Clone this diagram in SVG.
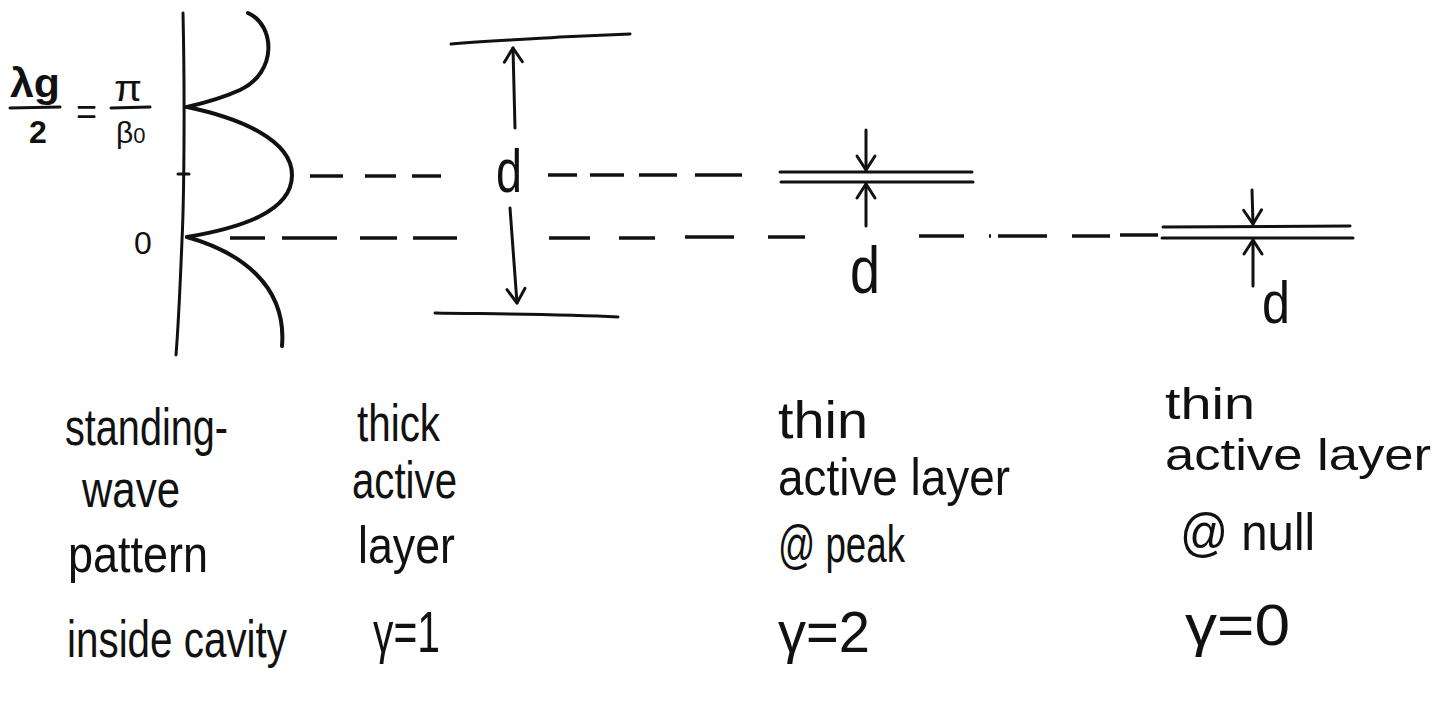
<svg xmlns="http://www.w3.org/2000/svg" width="1435" height="701" viewBox="0 0 1435 701">
<style>
.ink{fill:none;stroke:#111;stroke-width:3;stroke-linecap:round;stroke-linejoin:round}
.wave{fill:none;stroke:#111;stroke-width:4;stroke-linecap:round}
.dash{fill:none;stroke:#111;stroke-width:3.5;stroke-linecap:butt}
.t{font-family:"Liberation Sans",Arial,sans-serif;fill:#111;font-size:52px}
.s{font-size:44px}
.g{font-size:58px}
.f{font-family:"Liberation Sans",Arial,sans-serif;fill:#111}
</style>
<defs>
<marker id="v" markerUnits="userSpaceOnUse" markerWidth="30" markerHeight="30" viewBox="-16 -15 20 30" refX="0" refY="0" orient="auto">
<path d="M-14,-9 L0,0 L-14,9" fill="none" stroke="#111" stroke-width="3" stroke-linecap="round" stroke-linejoin="round"/>
</marker>
</defs>
<rect width="1435" height="701" fill="#fff"/>

<g id="wave-pattern">
<path class="ink" d="M183,13 C185,100 184,200 182,240 C180,290 178,330 176,355"/>
<path class="ink" d="M178,174 L189,174"/>
<path class="wave" d="M248,13 C275,25 278,72 240,90 C220,99 200,104 187,107"/>
<path class="wave" d="M187,107 C240,118 292,140 292,175 C292,212 240,228 187,237"/>
<path class="wave" d="M187,237 C240,252 287,285 282,346"/>
<text class="f" x="10" y="97" font-size="40" font-weight="bold" textLength="50" lengthAdjust="spacingAndGlyphs">λg</text>
<path class="ink" d="M10,108 L60,107"/>
<text class="f" x="29" y="143" font-size="32" font-weight="bold">2</text>
<text class="f" x="76" y="124" font-size="36">=</text>
<text class="f" x="114" y="101" font-size="36" textLength="28" lengthAdjust="spacingAndGlyphs">π</text>
<path class="ink" d="M111,108 L150,107"/>
<text class="f" x="116" y="143" font-size="30">β<tspan font-size="22">0</tspan></text>
<text class="f" x="134" y="254" font-size="32">0</text>
</g>

<g id="thick-layer">
<path class="ink" d="M451,44 C490,40 520,40 560,37 L630,34"/>
<path class="ink" d="M435,313 C500,314 560,314 618,317"/>
<text class="f" x="496" y="192" font-size="62" textLength="26" lengthAdjust="spacingAndGlyphs">d</text>
</g>

<g id="thin-peak">
<path class="ink" d="M780,172 L972,172"/>
<path class="ink" d="M781,182 L973,182"/>
<text class="f" x="850" y="293" font-size="66" textLength="30" lengthAdjust="spacingAndGlyphs">d</text>
</g>

<g id="thin-null">
<path class="ink" d="M1163,227 L1350,226"/>
<path class="ink" d="M1162,238 L1353,238"/>
<text class="f" x="1262" y="323" font-size="60" textLength="28" lengthAdjust="spacingAndGlyphs">d</text>
</g>

<g id="connectors">
<path class="dash" d="M310,176 H343 M365,176 H396 M412,176 H441 M548,175 H577 M590,175 H624 M639,175 H677 M695,175 H742"/>
<path class="dash" d="M230,238 H265 M282,238 H337 M360,238 H397 M413,238 H457 M549,238 H590 M619,238 H655 M685,237 H734 M768,237 H805 M919,236 H964 M989,236 H991 M998,236 H1047 M1072,236 H1110 M1120,235 H1158"/>
<path class="ink" d="M515,128 L513,48" marker-end="url(#v)"/>
<path class="ink" d="M510,208 L517,303" marker-end="url(#v)"/>
<path class="ink" d="M866,130 L866,170" marker-end="url(#v)"/>
<path class="ink" d="M866,226 L866,184" marker-end="url(#v)"/>
<path class="ink" d="M1252,190 L1253,224" marker-end="url(#v)"/>
<path class="ink" d="M1253,286 L1253,240" marker-end="url(#v)"/>
</g>

<g id="labels">
<text class="t" x="65" y="445" textLength="163" lengthAdjust="spacingAndGlyphs">standing-</text>
<text class="t" x="82" y="507" textLength="98" lengthAdjust="spacingAndGlyphs">wave</text>
<text class="t" x="68" y="572" textLength="140" lengthAdjust="spacingAndGlyphs">pattern</text>
<text class="t" x="67" y="657" textLength="220" lengthAdjust="spacingAndGlyphs">inside cavity</text>
<text class="t" x="357" y="441" textLength="83" lengthAdjust="spacingAndGlyphs">thick</text>
<text class="t" x="352" y="498" textLength="105" lengthAdjust="spacingAndGlyphs">active</text>
<text class="t" x="358" y="563" textLength="97" lengthAdjust="spacingAndGlyphs">layer</text>
<text class="t g" x="373" y="652" textLength="67" lengthAdjust="spacingAndGlyphs">γ=1</text>
<text class="t" x="778" y="438" textLength="90" lengthAdjust="spacingAndGlyphs">thin</text>
<text class="t" x="778" y="495" textLength="232" lengthAdjust="spacingAndGlyphs">active layer</text>
<text class="t" x="778" y="562" textLength="127" lengthAdjust="spacingAndGlyphs">@ peak</text>
<text class="t g" x="778" y="652" textLength="92" lengthAdjust="spacingAndGlyphs">γ=2</text>
<text class="t s" x="1165" y="419" textLength="90" lengthAdjust="spacingAndGlyphs">thin</text>
<text class="t s" x="1165" y="470" textLength="266" lengthAdjust="spacingAndGlyphs">active layer</text>
<text class="t" x="1180" y="550" textLength="135" lengthAdjust="spacingAndGlyphs">@ null</text>
<text class="t g" x="1185" y="645" textLength="105" lengthAdjust="spacingAndGlyphs">γ=0</text>
</g>
</svg>
